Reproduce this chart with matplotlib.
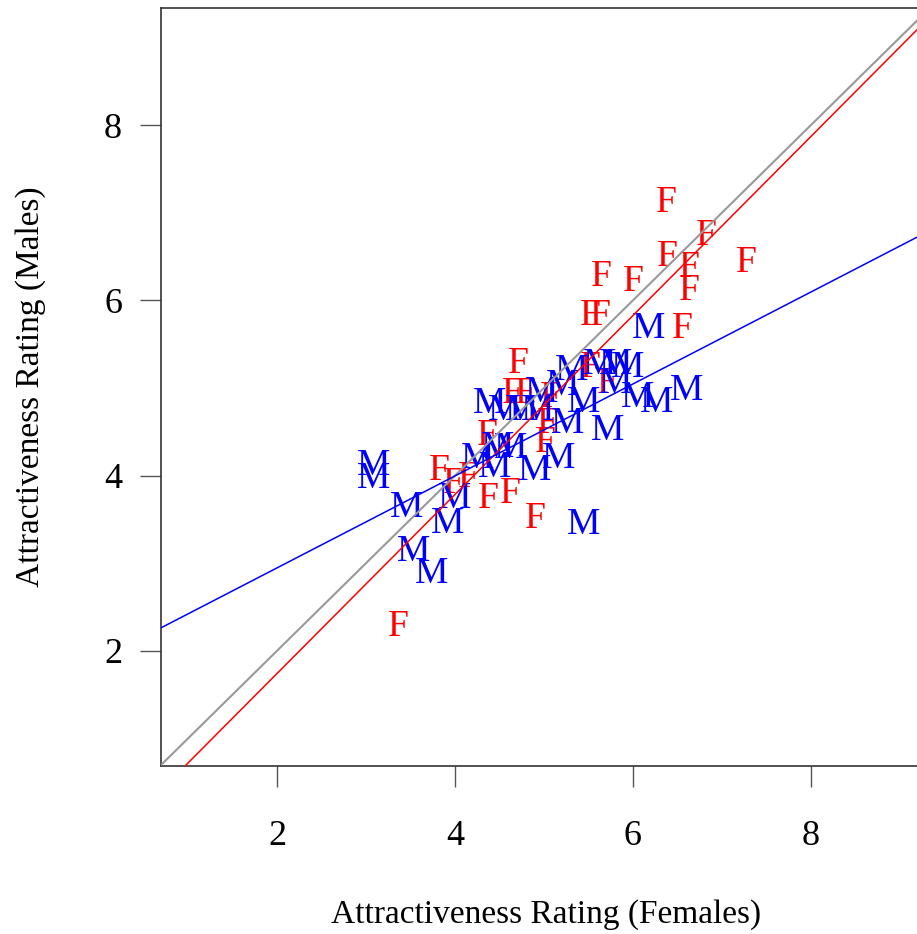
import matplotlib.pyplot as plt

# ratings
female_x = [6.37, 6.82, 6.39, 6.63, 6.63, 7.27, 5.64, 6.00, 5.52, 5.63,
            6.55, 4.71, 5.52, 5.71, 4.64, 4.79, 5.07, 5.04, 4.36, 5.01,
            3.83, 3.98, 4.15, 4.37, 4.62, 4.90, 3.36]
female_y = [7.12, 6.74, 6.50, 6.37, 6.11, 6.43, 6.27, 6.21, 5.83, 5.83,
            5.68, 5.28, 5.23, 5.05, 4.94, 4.94, 4.89, 4.59, 4.46, 4.38,
            4.06, 3.91, 3.98, 3.74, 3.79, 3.51, 2.27]

male_x = [3.09, 3.09, 3.46, 3.54, 3.74, 3.92, 4.00, 4.26, 4.45, 4.48,
          4.62, 4.90, 5.16, 5.27, 5.44, 5.72, 5.45, 4.39, 4.56, 4.75,
          4.93, 5.21, 5.31, 5.63, 5.81, 5.94, 5.80, 6.05, 6.27, 6.60,
          6.18, 4.97]
male_y = [4.11, 3.96, 3.63, 3.13, 2.88, 3.45, 3.74, 4.19, 4.09, 4.32,
          4.31, 4.06, 4.19, 4.59, 4.83, 4.51, 3.44, 4.82, 4.74, 4.74,
          4.74, 5.03, 5.20, 5.26, 5.26, 5.23, 5.05, 4.89, 4.83, 4.97,
          5.68, 4.95]

# fitted lines (intercept, slope)
IDENTITY = (0.0, 1.0)
FEMALE_FIT = (-0.302, 1.0215)
MALE_FIT = (1.897, 0.5248)

XTICKS = [2, 4, 6, 8]
YTICKS = [2, 4, 6, 8]

plt.rcParams["font.family"] = ["Liberation Serif", "DejaVu Serif"]

fig = plt.figure(figsize=(9.17, 9.34), dpi=100)
# right edge of the box falls outside the picture, as in the reference
ax = fig.add_axes([161 / 917, 168 / 934, (931 - 161) / 917, (766 - 8) / 934])
ax.set_xlim(0.697, 9.35)
ax.set_ylim(0.686, 9.337)

for x, y in zip(female_x, female_y):
    ax.text(x, y, "F", color="#ff0000", fontsize=27, ha="center", va="center")
for x, y in zip(male_x, male_y):
    ax.text(x, y, "M", color="#0000ff", fontsize=27, ha="center", va="center")

ax.axline((0, IDENTITY[0]), slope=IDENTITY[1], color="#999999", lw=1.5, zorder=3)
ax.axline((0, FEMALE_FIT[0]), slope=FEMALE_FIT[1], color="#ff0000", lw=1.1, zorder=3)
ax.axline((0, MALE_FIT[0]), slope=MALE_FIT[1], color="#0000ff", lw=1.1, zorder=3)

for s in ax.spines.values():
    s.set_color("#333333")
    s.set_linewidth(1.2)

ax.set_xticks(XTICKS)
ax.set_yticks(YTICKS)
ax.tick_params(axis="both", direction="out", length=15, width=1, color="#555555",
               labelsize=26)
ax.tick_params(axis="x", pad=24)
ax.tick_params(axis="y", pad=13)

ax.set_xlabel("Attractiveness Rating (Females)", fontsize=24, labelpad=33)
ax.set_ylabel("Attractiveness Rating (Males)", fontsize=24, labelpad=42)

fig.savefig("out.png", dpi=100)
